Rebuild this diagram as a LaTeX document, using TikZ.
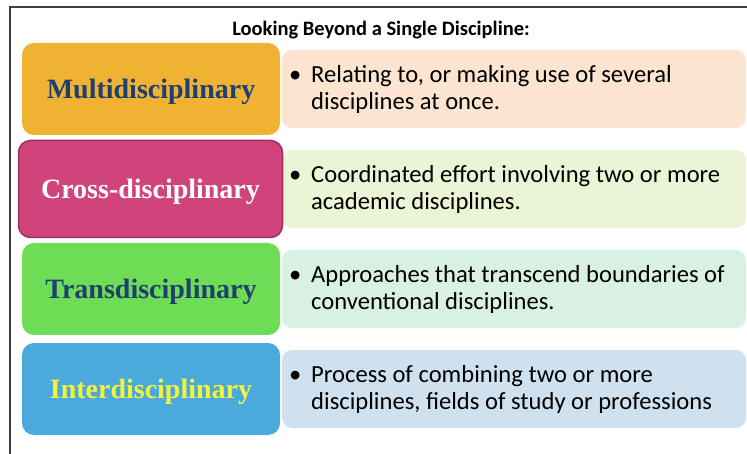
\documentclass[tikz,border=0pt]{standalone}
\usepackage{fontspec}
\setmainfont{Carlito}
\newfontfamily\termfont{Liberation Serif}
\usetikzlibrary{positioning}

\definecolor{multifill}{HTML}{F0B233}
\definecolor{multidesc}{HTML}{FBE5D1}
\definecolor{crossfill}{HTML}{D1447B}
\definecolor{crossedge}{HTML}{9C2F5C}
\definecolor{crossdesc}{HTML}{EBF4D4}
\definecolor{transfill}{HTML}{6FDC55}
\definecolor{transdesc}{HTML}{D9F1E2}
\definecolor{interfill}{HTML}{4AAADB}
\definecolor{interdesc}{HTML}{CFE1EF}
\definecolor{termblue}{HTML}{1E3F70}
\definecolor{termyellow}{HTML}{F7F23A}

\begin{document}
\begin{tikzpicture}[x=1pt, y=-1pt,
    term/.style={rounded corners=12pt, minimum width=258pt, minimum height=92pt, inner sep=0pt,
        text height=19pt, text depth=0pt, font=\termfont\bfseries\fontsize{28}{32}\selectfont},
    desc/.style={rounded corners=10pt, minimum width=464pt, minimum height=78pt, inner sep=0pt},
    bullets/.style={anchor=west, align=left, inner sep=0pt, font=\fontsize{24.6}{27}\selectfont}]
    \useasboundingbox (0,0) rectangle (747,454);
    \draw[line width=1.5pt, black!75] (747,7) -- (10,7) -- (10,454);
    \node[font=\bfseries\fontsize{20.5}{22}\selectfont] (title) at (381,30) {Looking Beyond a Single Discipline:};
    % descriptions
    \node[desc, fill=multidesc] (multibox) at (514,89) {};
    \node[desc, fill=crossdesc] (crossbox) at (514,189) {};
    \node[desc, fill=transdesc] (transbox) at (514,289) {};
    \node[desc, fill=interdesc] (interbox) at (514,389) {};
    \node[bullets] (multitext) at (289,89) {\makebox[22pt][l]{\textbullet}Relating to, or making use of several\\\hspace*{22pt}disciplines at once.};
    \node[bullets] (crosstext) at (289,189) {\makebox[22pt][l]{\textbullet}Coordinated effort involving two or more\\\hspace*{22pt}academic disciplines.};
    \node[bullets] (transtext) at (289,289) {\makebox[22pt][l]{\textbullet}Approaches that transcend boundaries of\\\hspace*{22pt}conventional disciplines.};
    \node[bullets] (intertext) at (289,389) {\makebox[22pt][l]{\textbullet}Process of combining two or more\\\hspace*{22pt}disciplines, fields of study or professions};
    % terms
    \node[term, fill=multifill, text=termblue] (multi) at (151,89) {Multidisciplinary};
    \node[term, fill=crossfill, draw=crossedge, line width=1.5pt, minimum width=264pt, minimum height=97pt, text=white] (cross) at (150.5,189) {Cross-disciplinary};
    \node[term, fill=transfill, text=termblue] (trans) at (151,289) {Transdisciplinary};
    \node[term, fill=interfill, text=termyellow] (inter) at (151,389) {Interdisciplinary};
\end{tikzpicture}
\end{document}
